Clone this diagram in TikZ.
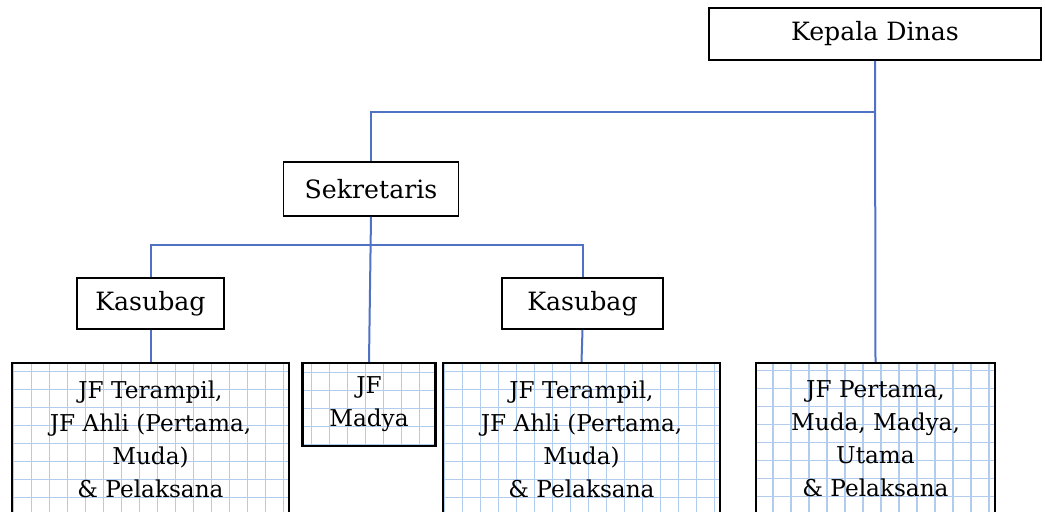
\documentclass[tikz,border=0pt]{standalone}
\usepackage{fontspec}
\setmainfont{DejaVu Serif}
\definecolor{linkblue}{RGB}{79,114,196}
\definecolor{gridblue}{RGB}{178,204,238}
\tikzset{
  block/.style={
    rectangle,
    draw=black,
    line width=0.8pt,
    fill=white,
    inner sep=0pt,
    align=center,
    font=\fontsize{12.6}{17}\selectfont
  },
  gridblock/.style={
    block,
    line width=1.1pt,
    font=\fontsize{11.6}{16.5}\selectfont,
    path picture={\draw[gridblue, line width=0.6pt, x=1pt, y=1pt, step=9] (path picture bounding box.south west) grid (path picture bounding box.north east);}
  }
}
\tikzstyle{link} = [draw=linkblue, line width=1pt]

\begin{document}
\begin{tikzpicture}[x=0.5pt, y=-0.5pt]
    \useasboundingbox (0,0) rectangle (1045,511);
    \node[block, minimum width=166pt, minimum height=26pt] (kd) at (875, 34) {Kepala Dinas};
    \node[block, minimum width=87.5pt, minimum height=27pt] (sek) at (371, 189) {Sekretaris};
    \node[block, minimum width=73.5pt, minimum height=25.5pt] (ks1) at (150.5, 303.5) {Kasubag};
    \node[block, minimum width=80.5pt, minimum height=25.5pt] (ks2) at (582.5, 303.5) {Kasubag};
    \node[gridblock, minimum width=138.5pt, minimum height=76pt] (jf1) at (150.5, 439) {JF Terampil,\\JF Ahli (Pertama,\\Muda)\\\& Pelaksana};
    \node[gridblock, minimum width=66.5pt, minimum height=41.5pt] (jfm) at (369, 404.5) {JF\\Madya};
    \node[gridblock, minimum width=138.5pt, minimum height=76pt] (jf3) at (581.5, 439) {JF Terampil,\\JF Ahli (Pertama,\\Muda)\\\& Pelaksana};
    \node[gridblock, minimum width=119.5pt, minimum height=76pt] (jfu) at (875.5, 439) {JF Pertama,\\Muda, Madya,\\Utama\\\& Pelaksana};
    \coordinate (bus1) at (875, 112);
    \coordinate (bus2) at (371, 245);
    \draw[link] (kd.south) -- (jfu.north);
    \draw[link] (sek.north) |- (bus1);
    \draw[link] (sek.south) -- (jfm.north);
    \draw[link] (ks1.north) |- (bus2) -| (ks2.north);
    \draw[link] (ks1.south) -- (jf1.north);
    \draw[link] (ks2.south) -- (jf3.north);
    \end{tikzpicture}
\end{document}
